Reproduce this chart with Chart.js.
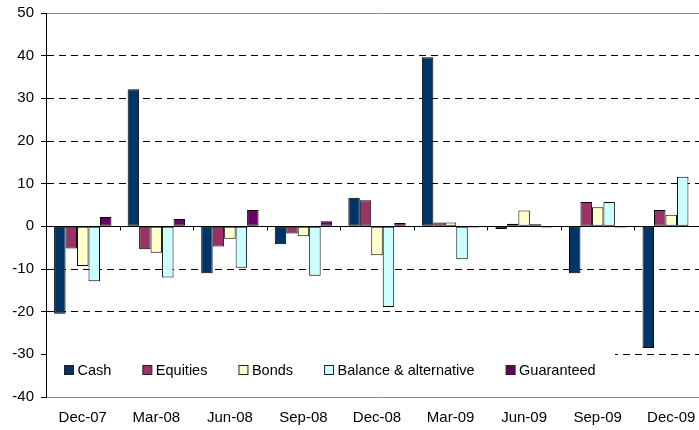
<!DOCTYPE html>
<html>
<head>
<meta charset="utf-8">
<script src="https://cdn.jsdelivr.net/npm/chart.js@4.4.1/dist/chart.umd.min.js"></script>
<style>
  html, body { margin: 0; padding: 0; background: #fff; overflow: hidden; }
  #wrap { width: 708px; height: 430px; }
</style>
</head>
<body>
<div id="wrap"><canvas id="flows"></canvas></div>
<script>
var quarters = ['Dec-07', 'Mar-08', 'Jun-08', 'Sep-08', 'Dec-08', 'Mar-09', 'Jun-09', 'Sep-09', 'Dec-09'];
var cash       = [-20.5, 32.1, -11.0, -4.2,  6.7, 39.6, -0.6, -11.0, -28.5];
var equities   = [ -5.2, -5.4,  -4.7, -1.7,  6.1,  0.9,  0.6,   5.7,   3.8];
var bonds      = [ -9.3, -6.2,  -2.9, -2.3, -6.8,  0.9,  3.7,   4.5,   2.7];
var balanced   = [-12.9, -12.0, -9.7, -11.6, -18.9, -7.7, 0.5,  5.7,  11.6];
var guaranteed = [  2.2,  1.7,   3.8,  1.2,  0.8, -0.3, -0.3,  -0.3,  -0.1];
var yMin = -40, yMax = 50, yStep = 10;

var FONT = 'Arial, "Liberation Sans", sans-serif';

function series(label, data, fill) {
  return {
    label: label,
    data: data,
    backgroundColor: fill,
    borderColor: '#000',
    borderWidth: 1,
    borderSkipped: false,
    categoryPercentage: 0.78,
    barPercentage: 1.0
  };
}

// zero line, category tick marks and the boxed legend inside the plot
var extras = {
  id: 'extras',
  beforeDatasetsDraw: function(chart) {
    var ctx = chart.ctx, area = chart.chartArea;
    var x = chart.scales.x, y = chart.scales.y;
    var y0 = Math.round(y.getPixelForValue(0)) + 0.5;

    ctx.save();
    // legend box hides the grid behind it
    var boxTop = y.getPixelForValue(-29.2), boxBot = y.getPixelForValue(-38.8);
    ctx.fillStyle = '#fff';
    ctx.fillRect(area.left + 1, boxTop, 568, boxBot - boxTop);

    ctx.strokeStyle = '#000';
    ctx.lineWidth = 1;
    ctx.beginPath();
    ctx.moveTo(area.left, y0);
    ctx.lineTo(area.right, y0);
    for (var i = 0; i < quarters.length - 1; i++) {
      var bx = Math.round((x.getPixelForValue(i) + x.getPixelForValue(i + 1)) / 2) + 0.5;
      ctx.moveTo(bx, y0);
      ctx.lineTo(bx, y0 + 4);
    }
    ctx.stroke();

    // legend entries
    ctx.font = '14.5px ' + FONT;
    ctx.textBaseline = 'middle';
    var lx = area.left + 18.5, ly = Math.round(y.getPixelForValue(-33.7));
    chart.data.datasets.forEach(function(ds) {
      ctx.fillStyle = ds.backgroundColor;
      ctx.fillRect(lx, ly - 4.5, 9, 9);
      ctx.strokeStyle = '#222';
      ctx.strokeRect(lx, ly - 4.5, 9, 9);
      ctx.fillStyle = '#000';
      ctx.fillText(ds.label, lx + 13, ly + 0.5);
      lx += 13 + ctx.measureText(ds.label).width + 31.5;
    });
    ctx.restore();
  }
};

new Chart(document.getElementById('flows'), {
  type: 'bar',
  data: {
    labels: quarters,
    datasets: [
      series('Cash', cash, '#003366'),
      series('Equities', equities, '#993366'),
      series('Bonds', bonds, '#FFFFCC'),
      series('Balance & alternative', balanced, '#CCFFFF'),
      series('Guaranteed', guaranteed, '#660066')
    ]
  },
  options: {
    responsive: true,
    maintainAspectRatio: false,
    animation: false,
    layout: { padding: { top: 13, right: 0, bottom: 0, left: 0 } },
    plugins: {
      legend: { display: false },
      tooltip: { enabled: false }
    },
    scales: {
      x: {
        grid: { display: false, drawTicks: false },
        border: { display: false },
        ticks: { color: '#000', font: { family: FONT, size: 15 }, padding: 12, maxRotation: 0 },
        afterFit: function(scale) { scale.height = 33; }
      },
      y: {
        min: yMin,
        max: yMax,
        ticks: { stepSize: yStep, color: '#000', font: { family: FONT, size: 15 }, padding: 7 },
        grid: {
          tickLength: 5,
          color: function(c) {
            if (!c.tick) return '#000';
            if (c.tick.value === 0) return 'rgba(0,0,0,0)';
            if (c.tick.value === yMax || c.tick.value === yMin) return '#8a8a8a';
            return '#000';
          },
          tickColor: '#000'
        },
        border: {
          display: true,
          color: '#000',
          dash: function(c) {
            if (!c.tick) return [];
            if (c.tick.value === yMax || c.tick.value === yMin) return [];
            return [7, 5];
          }
        },
        afterFit: function(scale) {
          scale.width = 46;
          scale.paddingTop = 0;
          scale.paddingBottom = 0;
        }
      }
    }
  },
  plugins: [extras]
});
</script>
</body>
</html>
